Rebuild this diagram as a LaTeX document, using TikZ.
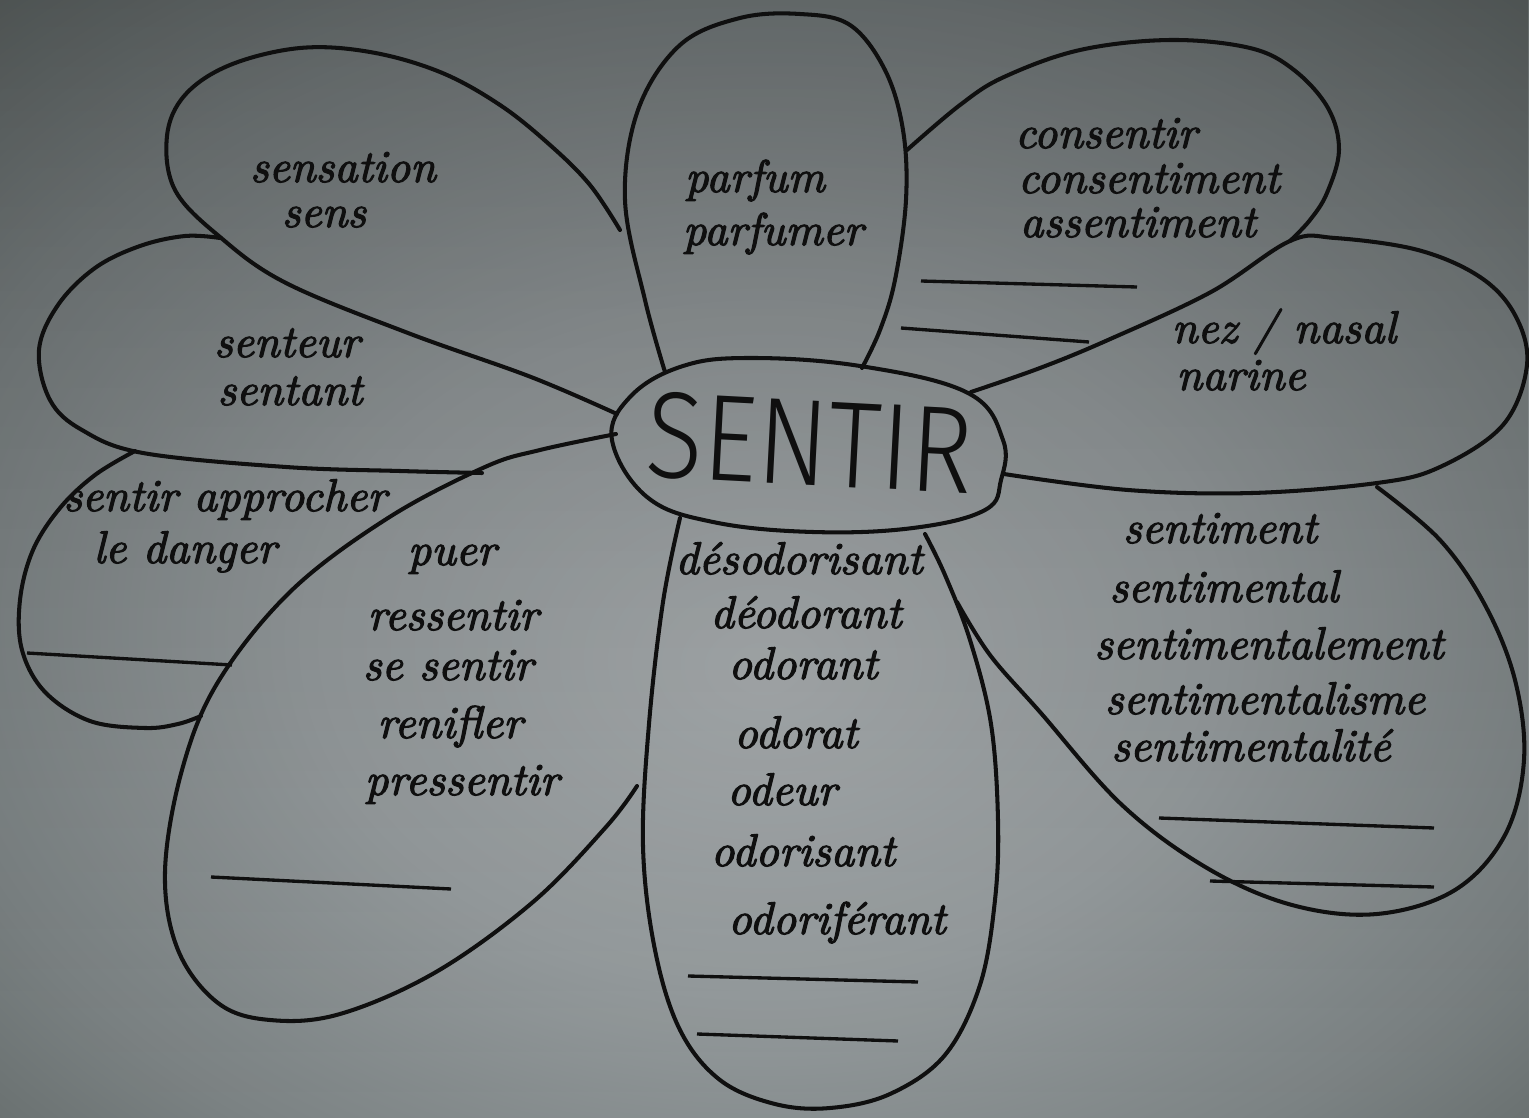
\documentclass[tikz,border=0pt]{standalone}
\usepackage{fontspec}
\usepackage{graphicx}
\usetikzlibrary{fadings}
\newfontfamily\titlefont{Fira Sans Light}
\newfontfamily\handfont{lmroman10-italic.otf}[FakeBold=2.5]
\definecolor{ink}{RGB}{15,15,15}
\definecolor{bgin}{RGB}{172,177,179}
\definecolor{bgmid}{RGB}{152,158,160}
\definecolor{bglow}{RGB}{124,131,132}
\definecolor{bgedge}{RGB}{96,103,102}
\definecolor{bgdark}{RGB}{74,80,78}
\definecolor{bgout}{RGB}{58,63,60}
\pgfdeclareradialshading{vignette}{\pgfpoint{0bp}{-5bp}}{color(0bp)=(bgin); color(15bp)=(bgmid); color(28bp)=(bglow); color(38bp)=(bgedge); color(47bp)=(bgdark); color(56bp)=(bgout)}
\begin{document}
\begin{tikzpicture}[x=0.01cm,y=-0.01cm,
    petal/.style={draw=ink,line width=1.15pt,line join=round,line cap=round},
    blank/.style={draw=ink,line width=0.95pt},
    word/.style={font=\fontsize{13}{15}\handfont,text=ink,inner sep=0pt,anchor=base}]
  \shade[shading=vignette] (0,0) rectangle (1529,1118);
  \fill[black,fill opacity=0.22,path fading=south] (0,0) rectangle (1529,1118);
  \useasboundingbox (0,0) rectangle (1529,1118);
  % petals
  \draw[petal] plot[smooth,tension=0.6] coordinates {(665,372) (645,300) (625,200) (638,110) (680,45) (740,18) (800,14) (850,25) (885,70) (903,130) (906,200) (895,280) (880,330) (862,368)};
  \draw[petal] plot[smooth,tension=0.6] coordinates {(620,230) (590,185) (550,145) (500,105) (440,72) (370,52) (300,48) (230,65) (185,95) (167,136) (175,190) (220,237) (286,283) (408,333) (531,377) (617,414)};
  \draw[petal] plot[smooth,tension=0.6] coordinates {(220,238) (185,236) (140,246) (95,268) (58,305) (39,350) (50,400) (82,430) (143,453) (286,467) (400,471) (482,473)};
  \draw[petal] plot[smooth,tension=0.6] coordinates {(135,451) (95,475) (60,508) (33,550) (20,600) (22,650) (45,692) (90,721) (145,728) (178,724) (201,716)};
  \draw[petal] plot[smooth,tension=0.6] coordinates {(616,434) (540,450) (485,467) (388,518) (291,591) (218,682) (182,770) (165,872) (178,950) (218,1003) (270,1020) (340,1014) (436,972) (533,902) (606,827) (637,786)};
  \draw[petal] plot[smooth,tension=0.6] coordinates {(680,518) (663,602) (649,724) (643,846) (655,950) (680,1030) (720,1080) (775,1104) (830,1108) (890,1094) (945,1055) (980,985) (995,900) (998,820) (991,724) (970,640) (945,575) (925,534)};
  \draw[petal] plot[smooth,tension=0.6] coordinates {(957,602) (990,655) (1040,712) (1122,805) (1207,868) (1292,905) (1377,914) (1455,890) (1505,835) (1524,760) (1515,680) (1485,605) (1440,540) (1377,487)};
  \draw[petal] plot[smooth,tension=0.6] coordinates {(971,392) (1040,368) (1108,340) (1211,292) (1290,241) (1335,238) (1418,250) (1480,277) (1515,315) (1527,365) (1503,425) (1440,467) (1377,483) (1252,493) (1128,490) (1004,474)};
  \draw[petal] plot[smooth,tension=0.6] coordinates {(907,150) (960,105) (1004,77) (1080,50) (1170,40) (1250,48) (1294,70) (1328,108) (1339,150) (1327,193) (1310,220) (1290,241)};
  % centre
  \draw[petal] plot[smooth cycle,tension=0.65] coordinates {(612,440) (630,397) (680,367) (747,358) (860,366) (968,393) (1003,440) (1001,480) (985,510) (913,528) (813,532) (713,522) (647,497)};
  \node[font=\titlefont\fontsize{35}{40}\selectfont,text=ink,inner sep=0pt,rotate=-3] (sentir) at (810,443) {\scalebox{0.86}[1]{SENTIR}};
  % blank lines
  \draw[blank] (921,281) -- (1137,287);
  \draw[blank] (901,328) -- (1089,342);
  \draw[blank] (27,653) -- (232,665);
  \draw[blank] (211,877) -- (451,889);
  \draw[blank] (688,976) -- (918,982);
  \draw[blank] (697,1034) -- (898,1041);
  \draw[blank] (1159,818) -- (1434,828);
  \draw[blank] (1210,881) -- (1434,887);
  % words
  \node[word] (sensation) at (343,182) {sensation};
  \node[word] (sens) at (324,227) {sens};
  \node[word] (parfum) at (755,192) {parfum};
  \node[word] (parfumer) at (773,245) {parfumer};
  \node[word] (consentir) at (1106,148) {consentir};
  \node[word] (consentiment) at (1149,193) {consentiment};
  \node[word] (assentiment) at (1138,237) {assentiment};
  \node[word] (nez) at (1284,343) {nez / nasal};
  \node[word] (narine) at (1241,390) {narine};
  \node[word] (senteur) at (287,357) {senteur};
  \node[word] (sentant) at (290,405) {sentant};
  \node[word] (approcher) at (225,511) {sentir approcher};
  \node[word] (danger) at (185,563) {le danger};
  \node[word] (puer) at (452,565) {puer};
  \node[word] (ressentir) at (453,630) {ressentir};
  \node[word] (sesentir) at (448,680) {se sentir};
  \node[word] (renifler) at (450,738) {renifler};
  \node[word] (pressentir) at (462,795) {pressentir};
  \node[word] (desodorisant) at (799,574) {désodorisant};
  \node[word] (deodorant) at (806,628) {déodorant};
  \node[word] (odorant) at (803,679) {odorant};
  \node[word] (odorat) at (796,748) {odorat};
  \node[word] (odeur) at (782,805) {odeur};
  \node[word] (odorisant) at (803,866) {odorisant};
  \node[word] (odoriferant) at (837,934) {odoriférant};
  \node[word] (sentiment) at (1220,543) {sentiment};
  \node[word] (sentimental) at (1224,602) {sentimental};
  \node[word] (sentimentalement) at (1269,659) {sentimentalement};
  \node[word] (sentimentalisme) at (1265,714) {sentimentalisme};
  \node[word] (sentimentalite) at (1251,761) {sentimentalité};
\end{tikzpicture}
\end{document}
